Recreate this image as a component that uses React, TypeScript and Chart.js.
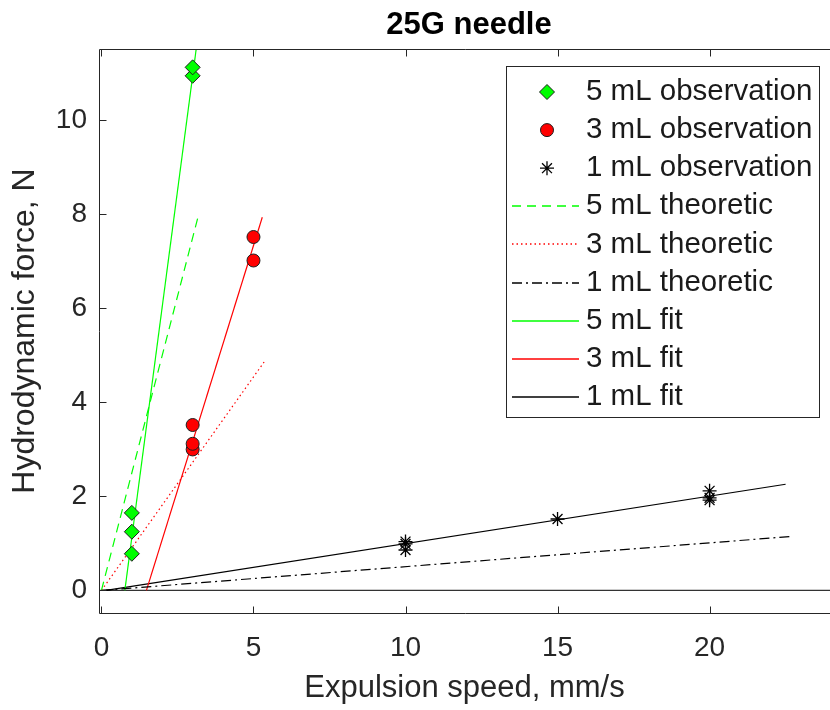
import React, { useEffect, useRef } from 'react';
import { Chart, registerables } from 'chart.js';

Chart.register(...registerables);

// ---------- data ----------
const titleText = '25G needle';
const xLabel = 'Expulsion speed, mm/s';
const yLabel = 'Hydrodynamic force, N';

const xTicks = [0, 5, 10, 15, 20];
const yTicks = [0, 2, 4, 6, 8, 10];
const xLimits = [-0.08, 23.96];
const yLimits = [-0.48, 11.52];

const obs5Speed = [1, 1, 1, 3, 3];
const obs5Force = [0.78, 1.25, 1.65, 10.95, 11.13];

const obs3Speed = [3, 3, 3, 5, 5];
const obs3Force = [3.0, 3.12, 3.52, 7.02, 7.52];

const obs1Speed = [10, 10, 10, 15, 20, 20, 20];
const obs1Force = [0.86, 0.99, 1.04, 1.52, 1.92, 1.97, 2.12];

const theo5Speed = [0, 3.19];
const theo5Force = [0, 7.98];
const theo3Speed = [0, 5.35];
const theo3Force = [0, 4.86];
const theo1Speed = [0, 22.72];
const theo1Force = [0, 1.15];

const fit5Speed = [0.77, 3.2];
const fit5Force = [0, 11.93];
const fit3Speed = [1.48, 5.29];
const fit3Force = [0, 7.94];
const fit1Speed = [0.15, 22.5];
const fit1Force = [0, 2.26];

const zeroForce = [0, 0];

const legendLabels = [
  '5 mL observation',
  '3 mL observation',
  '1 mL observation',
  '5 mL theoretic',
  '3 mL theoretic',
  '1 mL theoretic',
  '5 mL fit',
  '3 mL fit',
  '1 mL fit',
];

const GREEN = '#00ff00';
const RED = '#ff0000';
const BLACK = '#000000';
const AXIS = '#262626';
const FONT = "'Liberation Sans', Arial, Helvetica, sans-serif";

const pts = (xs: number[], ys: number[]) => xs.map((x, i) => ({ x, y: ys[i] }));

const axesPlugin = {
  id: 'matlabAxes',
  afterDatasetsDraw(chart: any) {
    const { ctx, chartArea: ca, scales } = chart;
    const L = Math.round(ca.left) + 0.5;
    const R = Math.round(ca.right) + 10;
    const T = Math.round(ca.top) + 0.5;
    const B = Math.round(ca.bottom) + 0.5;
    ctx.save();
    ctx.strokeStyle = AXIS;
    ctx.lineWidth = 1;
    ctx.setLineDash([]);
    ctx.beginPath();
    ctx.moveTo(L, T); ctx.lineTo(R, T);
    ctx.moveTo(L, B); ctx.lineTo(R, B);
    ctx.moveTo(L, T); ctx.lineTo(L, B);
    const tl = 7;
    xTicks.forEach((v) => {
      const px = Math.round(scales.x.getPixelForValue(v)) + 0.5;
      ctx.moveTo(px, B); ctx.lineTo(px, B - tl);
      ctx.moveTo(px, T); ctx.lineTo(px, T + tl);
    });
    yTicks.forEach((v) => {
      const py = Math.round(scales.y.getPixelForValue(v)) + 0.5;
      ctx.moveTo(L, py); ctx.lineTo(L + tl, py);
    });
    ctx.stroke();
    ctx.restore();
  },
};

function drawMarker(ctx: CanvasRenderingContext2D, style: string, cx: number, cy: number, r: number, fill: string, stroke: string) {
  ctx.save();
  ctx.setLineDash([]);
  ctx.lineWidth = 1;
  ctx.fillStyle = fill;
  ctx.strokeStyle = stroke;
  ctx.beginPath();
  if (style === 'rectRot') {
    ctx.moveTo(cx, cy - r); ctx.lineTo(cx + r, cy); ctx.lineTo(cx, cy + r); ctx.lineTo(cx - r, cy); ctx.closePath();
    ctx.fill(); ctx.stroke();
  } else if (style === 'circle') {
    ctx.arc(cx, cy, r, 0, Math.PI * 2);
    ctx.fill(); ctx.stroke();
  } else {
    const d = r * Math.SQRT1_2;
    ctx.lineWidth = 1.3;
    ctx.moveTo(cx - r, cy); ctx.lineTo(cx + r, cy);
    ctx.moveTo(cx, cy - r); ctx.lineTo(cx, cy + r);
    ctx.moveTo(cx - d, cy - d); ctx.lineTo(cx + d, cy + d);
    ctx.moveTo(cx - d, cy + d); ctx.lineTo(cx + d, cy - d);
    ctx.stroke();
  }
  ctx.restore();
}

const titlePlugin = {
  id: 'matlabTitle',
  afterDraw(chart: any) {
    const { ctx, chartArea: ca } = chart;
    ctx.save();
    ctx.font = `bold 31px ${FONT}`;
    ctx.fillStyle = '#000';
    ctx.textAlign = 'center';
    ctx.textBaseline = 'middle';
    ctx.fillText(titleText, ca.left + 370, 25);
    ctx.restore();
  },
};

const legendPlugin = {
  id: 'matlabLegend',
  afterDraw(chart: any) {
    const { ctx, chartArea: ca } = chart;
    const w = 313;
    const h = 351;
    const x0 = Math.round(ca.right - 11 - w);
    const y0 = Math.round(ca.top + 17);
    ctx.save();
    ctx.fillStyle = '#fff';
    ctx.fillRect(x0, y0, w, h);
    ctx.strokeStyle = AXIS;
    ctx.lineWidth = 1;
    ctx.strokeRect(x0 + 0.5, y0 + 0.5, w, h);
    let i = 0;
    chart.data.datasets.forEach((ds: any) => {
      if (!ds.inLegend) return;
      const cy = y0 + 26 + 38.1 * i;
      if (ds.showLine) {
        ctx.save();
        ctx.strokeStyle = ds.legendColor;
        ctx.lineWidth = 1.3;
        ctx.setLineDash(ds.legendDash);
        ctx.beginPath();
        ctx.moveTo(x0 + 6, Math.round(cy));
        ctx.lineTo(x0 + 73, Math.round(cy));
        ctx.stroke();
        ctx.restore();
      } else {
        drawMarker(ctx, ds.pointStyle, x0 + 41, cy, ds.pointRadius, ds.legendColor, ds.legendEdge);
      }
      ctx.font = `29.5px ${FONT}`;
      ctx.fillStyle = '#1a1a1a';
      ctx.textAlign = 'left';
      ctx.textBaseline = 'middle';
      ctx.fillText(ds.label, x0 + 80, cy);
      i += 1;
    });
    ctx.restore();
  },
};

export default function App() {
  const ref = useRef<HTMLCanvasElement | null>(null);

  useEffect(() => {
    if (!ref.current) return;
    Chart.defaults.font.family = FONT;

    const obs = (label: string, xs: number[], ys: number[], style: string, r: number, fill: string, stroke: string, bw: number) => ({
      label,
      data: pts(xs, ys),
      showLine: false,
      pointStyle: style,
      pointRadius: r,
      pointHoverRadius: r,
      pointBackgroundColor: fill,
      pointBorderColor: stroke,
      pointBorderWidth: bw,
      inLegend: true,
      legendColor: fill,
      legendEdge: stroke,
    });
    const line = (label: string, xs: number[], ys: number[], color: string, dash: number[], inLegend = true) => ({
      label,
      data: pts(xs, ys),
      showLine: true,
      borderColor: color,
      backgroundColor: color,
      borderWidth: 1.2,
      borderDash: dash,
      pointRadius: 0,
      pointHoverRadius: 0,
      fill: false,
      inLegend,
      legendColor: color,
      legendDash: dash.slice(),
    });

    const chart = new Chart(ref.current, {
      type: 'scatter',
      data: {
        datasets: [
          obs(legendLabels[0], obs5Speed, obs5Force, 'rectRot', 7.5, GREEN, '#1e1e1e', 1),
          obs(legendLabels[1], obs3Speed, obs3Force, 'circle', 6.5, RED, '#1e1e1e', 1),
          obs(legendLabels[2], obs1Speed, obs1Force, 'star', 7, BLACK, BLACK, 1.3),
          line(legendLabels[3], theo5Speed, theo5Force, GREEN, [9, 6]),
          line(legendLabels[4], theo3Speed, theo3Force, RED, [1.5, 3]),
          line(legendLabels[5], theo1Speed, theo1Force, BLACK, [10, 4, 2, 4]),
          line(legendLabels[6], fit5Speed, fit5Force, GREEN, []),
          line(legendLabels[7], fit3Speed, fit3Force, RED, []),
          line(legendLabels[8], fit1Speed, fit1Force, BLACK, []),
          line('zero', xLimits, zeroForce, '#333333', [], false),
        ] as any,
      },
      options: {
        animation: false,
        responsive: false,
        maintainAspectRatio: false,
        devicePixelRatio: 1,
        events: [],
        layout: { autoPadding: false, padding: { top: 49, right: 0, left: 0, bottom: 0 } },
        plugins: {
          legend: { display: false },
          title: { display: false },
          tooltip: { enabled: false },
        },
        scales: {
          x: {
            type: 'linear',
            min: xLimits[0],
            max: xLimits[1],
            afterBuildTicks: (s: any) => {
              s.ticks = xTicks.map((v) => ({ value: v }));
            },
            afterFit: (s: any) => {
              s.height = 97;
              s.paddingLeft = 0;
              s.paddingRight = 0;
            },
            grid: { display: false, drawTicks: false },
            border: { display: false },
            ticks: {
              color: AXIS,
              font: { size: 28, family: FONT },
              padding: 18,
              maxRotation: 0,
              autoSkip: false,
              includeBounds: false,
            },
            title: {
              display: true,
              text: xLabel,
              color: AXIS,
              font: { size: 31, family: FONT },
              padding: { top: 0, bottom: 3 },
            },
          },
          y: {
            type: 'linear',
            min: yLimits[0],
            max: yLimits[1],
            afterBuildTicks: (s: any) => {
              s.ticks = yTicks.map((v) => ({ value: v }));
            },
            afterFit: (s: any) => {
              s.width = 99;
              s.paddingTop = 0;
              s.paddingBottom = 0;
            },
            grid: { display: false, drawTicks: false },
            border: { display: false },
            ticks: {
              color: AXIS,
              font: { size: 28, family: FONT },
              padding: 12,
              autoSkip: false,
              includeBounds: false,
            },
            title: {
              display: true,
              text: yLabel,
              color: AXIS,
              font: { size: 32, family: FONT },
              padding: { top: 6, bottom: 0 },
            },
          },
        },
      },
      plugins: [axesPlugin, titlePlugin, legendPlugin],
    });

    return () => chart.destroy();
  }, []);

  return (
    <div
      style={{
        position: 'absolute',
        left: 0,
        top: 0,
        width: 830,
        height: 710,
        overflow: 'hidden',
        background: '#ffffff',
      }}
    >
      <canvas ref={ref} width={830} height={710} style={{ display: 'block', width: 830, height: 710 }} />
    </div>
  );
}
